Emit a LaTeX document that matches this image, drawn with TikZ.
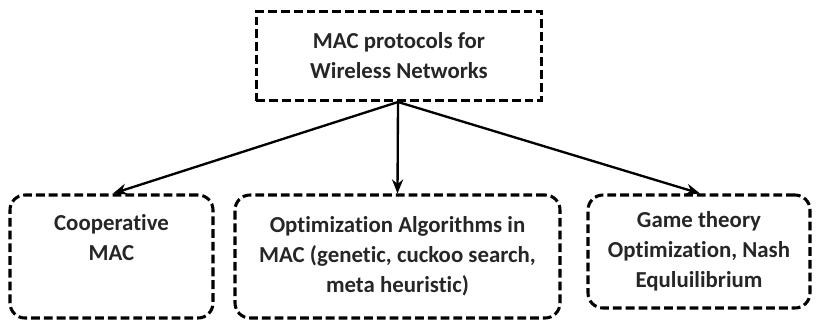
\documentclass[tikz,border=0pt]{standalone}
\usepackage{fontspec}
\setmainfont[Ligatures=NoCommon]{Carlito}
\usetikzlibrary{arrows.meta}

\begin{document}
\begin{tikzpicture}[x=0.03cm,y=-0.03cm,
  box/.style={draw=black,line width=2.6pt,dash pattern=on 7.5pt off 3.4pt,align=center,
    inner sep=0pt,font=\fontsize{19.5}{25.6}\selectfont\bfseries,text=black!85},
  roundbox/.style={box,rounded corners=0.45cm},
  link/.style={-{Stealth[length=12pt,width=9.5pt]},line width=2pt}]

\useasboundingbox (0,0) rectangle (816,322);

\node[box,minimum width=8.55cm,minimum height=2.67cm] (top) at (399,56) {MAC protocols for\\Wireless Networks};

\node[roundbox,minimum width=6.09cm,minimum height=3.69cm] (coop) at (111.5,256.5) {Cooperative\\MAC\\\strut};
\node[roundbox,minimum width=9.75cm,minimum height=3.69cm] (optim) at (397.5,256.5) {Optimization Algorithms in\\MAC (genetic, cuckoo search,\\meta heuristic)};
\node[roundbox,minimum width=6.66cm,minimum height=3.39cm] (game) at (699,251.5) {Game theory\\Optimization, Nash\\Equluilibrium};

\coordinate (root) at (398,102);

\draw[link] (root) -- (coop.north -| 113,0);
\draw[link] (root) -- (optim.north);
\draw[link] (root) -- (game.north -| 700,0);

\end{tikzpicture}
\end{document}
